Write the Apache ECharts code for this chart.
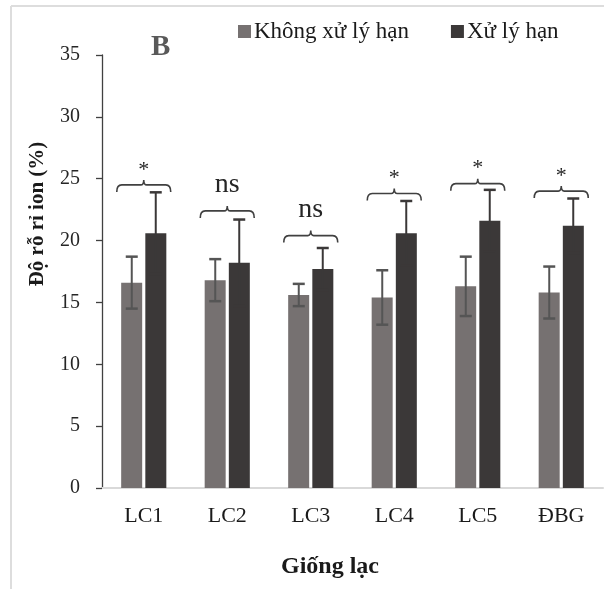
<!DOCTYPE html>
<html>
<head>
<meta charset="utf-8">
<script src="https://cdn.jsdelivr.net/npm/echarts@6/dist/echarts.min.js"></script>
<style>
html,body{margin:0;padding:0;background:#fff;}
#chart{width:604px;height:589px;}
</style>
</head>
<body>
<div id="chart"></div>
<script>
// du lieu doc tu hinh
var categories = ['LC1', 'LC2', 'LC3', 'LC4', 'LC5', 'ĐBG'];
var seriesNames = ['Không xử lý hạn', 'Xử lý hạn'];
var controlMean = [16.6, 16.8, 15.6, 15.4, 16.3, 15.8];
var controlSd = [2.1, 1.7, 0.9, 2.2, 2.4, 2.1];
var droughtMean = [20.6, 18.2, 17.7, 20.6, 21.6, 21.2];
var droughtSd = [3.3, 3.5, 1.7, 2.6, 2.5, 2.2];
var bracketLevel = [24.5, 22.4, 20.4, 23.8, 24.6, 24.0];
var sigLabels = ['*', 'ns', 'ns', '*', '*', '*'];
var yTicks = [0, 5, 10, 15, 20, 25, 30, 35];

var FONT = '"Liberation Serif", "Times New Roman", serif';
var chart = echarts.init(document.getElementById('chart'));

//thanh sai so (SD)
function errorSeries(means, sds, offset, color)
{
	var data = [];
	for(var i=0;i<means.length;i++)
	{
		data.push([i, means[i] - sds[i], means[i] + sds[i]]);
	}
	return {
		type: 'custom',
		silent: true,
		z: 5,
		data: data,
		renderItem: function(params, api){
			var lo = api.coord([api.value(0), api.value(1)]);
			var hi = api.coord([api.value(0), api.value(2)]);
			var x = lo[0] + offset;
			var style = {stroke: color, lineWidth: 2};
			return {
				type: 'group',
				children: [
					{type: 'line', shape: {x1: x, y1: lo[1], x2: x, y2: hi[1]}, style: style},
					{type: 'line', shape: {x1: x - 6, y1: hi[1], x2: x + 6, y2: hi[1]}, style: {stroke: color, lineWidth: 2.5}},
					{type: 'line', shape: {x1: x - 6, y1: lo[1], x2: x + 6, y2: lo[1]}, style: {stroke: color, lineWidth: 2.5}}
				]
			};
		}
	};
}

//ngoac va ky hieu y nghia thong ke
var bracketData = [];
for(var i=0;i<categories.length;i++)
{
	bracketData.push([i, bracketLevel[i], sigLabels[i]]);
}
var bracketSeries = {
	type: 'custom',
	silent: true,
	z: 6,
	data: bracketData,
	renderItem: function(params, api){
		var p = api.coord([api.value(0), api.value(1)]);
		var label = sigLabels[params.dataIndex];
		var xc = p[0], y = p[1];
		var xl = xc - 27, xr = xc + 27;
		var path = 'M' + xl + ' ' + (y + 7) +
			' Q' + xl + ' ' + y + ' ' + (xl + 5) + ' ' + y +
			' L' + (xc - 3) + ' ' + y +
			' Q' + xc + ' ' + y + ' ' + xc + ' ' + (y - 5) +
			' Q' + xc + ' ' + y + ' ' + (xc + 3) + ' ' + y +
			' L' + (xr - 5) + ' ' + y +
			' Q' + xr + ' ' + y + ' ' + xr + ' ' + (y + 7);
		var isStar = label == '*';
		return {
			type: 'group',
			children: [
				{type: 'path', shape: {pathData: path}, style: {fill: null, stroke: '#404040', lineWidth: 1.6}},
				{type: 'text', x: xc, y: isStar ? y - 15 : y - 26,
					style: {text: label, fill: '#262626', font: (isStar ? '22px ' : '28px ') + FONT, align: 'center', verticalAlign: 'middle'}}
			]
		};
	}
};

var option = {
	backgroundColor: '#ffffff',
	animation: false,
	grid: {left: 102, right: 1, top: 55, bottom: 101},
	legend: {
		data: seriesNames,
		left: 233,
		top: 15,
		icon: 'rect',
		itemWidth: 13,
		itemHeight: 13,
		itemGap: 42,
		textStyle: {fontFamily: FONT, fontSize: 23, color: '#1a1a1a', padding: [0, 0, 0, -2]}
	},
	xAxis: {
		type: 'category',
		data: categories,
		axisLine: {lineStyle: {color: '#d9d9d9', width: 2}},
		axisTick: {show: false},
		axisLabel: {fontFamily: FONT, fontSize: 22, color: '#1a1a1a', margin: 17}
	},
	yAxis: {
		type: 'value',
		min: 0,
		max: 35,
		interval: 5,
		axisLine: {show: true, lineStyle: {color: '#404040', width: 1.3}},
		axisTick: {show: true, length: 6, lineStyle: {color: '#404040', width: 1.3}},
		splitLine: {show: false},
		axisLabel: {fontFamily: FONT, fontSize: 20, color: '#262626', margin: 22,
			formatter: function(v){ return yTicks.indexOf(v) >= 0 ? String(v) : ''; }}
	},
	series: [
		{name: seriesNames[0], type: 'bar', data: controlMean, barWidth: 21, barGap: '15%',
			itemStyle: {color: '#767171'}},
		{name: seriesNames[1], type: 'bar', data: droughtMean, barWidth: 21,
			itemStyle: {color: '#3b3838'}},
		errorSeries(controlMean, controlSd, -12, '#555555'),
		errorSeries(droughtMean, droughtSd, 12, '#3b3838'),
		bracketSeries
	],
	graphic: [
		{type: 'line', shape: {x1: 11, y1: 6, x2: 604, y2: 6}, style: {stroke: '#dddddd', lineWidth: 2}},
		{type: 'line', shape: {x1: 11, y1: 6, x2: 11, y2: 589}, style: {stroke: '#dddddd', lineWidth: 2}},
		{type: 'text', left: 151, top: 33, style: {text: 'B', font: 'bold 29px ' + FONT, fill: '#595959'}},
		{type: 'text', x: 38, y: 214, rotation: Math.PI / 2,
			style: {text: 'Độ rỗ rỉ ion (%)', font: 'bold 21px ' + FONT, fill: '#1a1a1a', align: 'center', verticalAlign: 'middle'}},
		{type: 'text', x: 330, y: 567,
			style: {text: 'Giống lạc', font: 'bold 24px ' + FONT, fill: '#1a1a1a', align: 'center', verticalAlign: 'middle'}}
	]
};
chart.setOption(option);
</script>
</body>
</html>
